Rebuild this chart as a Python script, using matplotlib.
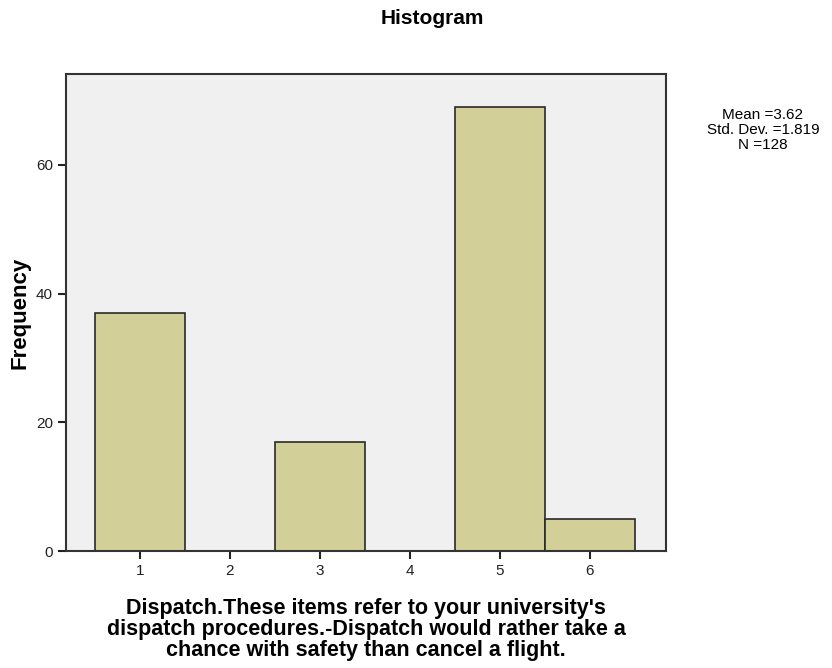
import matplotlib.pyplot as plt

plt.rcParams['font.family'] = ['Liberation Sans', 'DejaVu Sans']

# response categories and counts
categories = [1, 2, 3, 4, 5, 6]
counts = [37, 0, 17, 0, 69, 5]
stats_text = "Mean =3.62\nStd. Dev. =1.819\nN =128"
xlabel_text = ("Dispatch.These items refer to your university's\n"
               "dispatch procedures.-Dispatch would rather take a\n"
               "chance with safety than cancel a flight.")

fig = plt.figure(figsize=(8.32, 6.68), dpi=100)
ax = fig.add_axes([0.0793, 0.1751, 0.7212, 0.7141])
ax.set_facecolor('#f0f0f0')

ax.bar(categories, counts, width=1.0, color='#d3cf98', edgecolor='#2a2a2a', linewidth=1.2)

ax.set_xlim(0.178, 6.845)
ax.set_ylim(0, 74.1)
ax.set_xticks(categories)
ax.set_yticks([0, 20, 40, 60])
ax.tick_params(direction='out', length=6, width=1.5, labelsize=11, colors='#222222')
for s in ax.spines.values():
    s.set_color('#333333')
    s.set_linewidth(1.5)

ax.set_ylabel('Frequency', fontsize=16, fontweight='bold', labelpad=3.5)
ax.set_xlabel(xlabel_text, fontsize=15.5, fontweight='bold', labelpad=14, linespacing=1.0)
fig.text(0.52, 0.973, 'Histogram', fontsize=15, fontweight='bold', ha='center', va='center')
fig.text(0.917, 0.805, stats_text, fontsize=11, ha='center', va='center', linespacing=1.1)

fig.savefig('out.png', dpi=100)
